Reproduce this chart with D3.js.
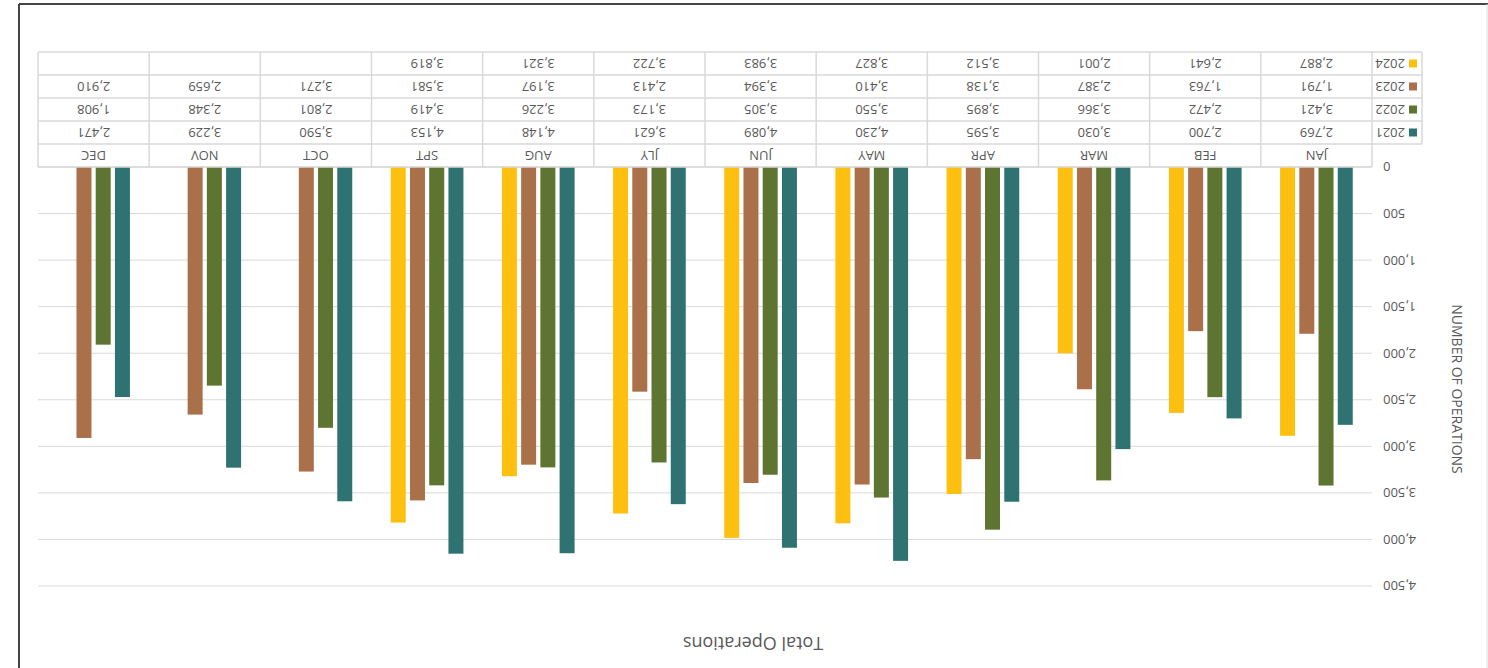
<!DOCTYPE html>
<html>
<head>
<meta charset="utf-8">
<script src="https://cdn.jsdelivr.net/npm/d3@7"></script>
<style>
  body { margin: 0; background: #fff; }
  text { font-family: "Open Sans", "Noto Sans", sans-serif; fill: #595959; }
</style>
</head>
<body>
<div id="chart"></div>
<script>
// Data
var months = ["JAN", "FEB", "MAR", "APR", "MAY", "JUN", "JLY", "AUG", "SPT", "OCT", "NOV", "DEC"];
var years = ["2021", "2022", "2023", "2024"];
var ops2021 = [2769, 2700, 3030, 3595, 4230, 4089, 3621, 4148, 4153, 3590, 3229, 2471];
var ops2022 = [3421, 2472, 3366, 3895, 3550, 3305, 3173, 3226, 3419, 2801, 2348, 1908];
var ops2023 = [1791, 1763, 2387, 3138, 3410, 3394, 2413, 3197, 3581, 3271, 2659, 2910];
var ops2024 = [2887, 2641, 2001, 3512, 3827, 3983, 3722, 3321, 3819, null, null, null];
var yTicks = [0, 500, 1000, 1500, 2000, 2500, 3000, 3500, 4000, 4500];
var colors = ["#2e7371", "#5e7532", "#a9704a", "#fdc010"];

var series = [ops2021, ops2022, ops2023, ops2024];

var W = 1488, H = 668;
var plotLeft = 116, plotRight = 1450, plotTop = 82, plotZero = 501;
var rowH = 23;

var svg = d3.select("#chart").append("svg")
  .attr("width", W)
  .attr("height", H);

// whole picture is shown upside down
var g = svg.append("g").attr("transform", "rotate(180," + W / 2 + "," + H / 2 + ")");

// frame
g.append("line").attr("x1", 1469).attr("x2", 1469).attr("y1", 0).attr("y2", 664)
  .style("stroke", "#444").style("stroke-width", 2);
g.append("line").attr("x1", 0).attr("x2", 1469).attr("y1", 664).attr("y2", 664)
  .style("stroke", "#444").style("stroke-width", 2);
g.append("line").attr("x1", 1).attr("x2", 1).attr("y1", 0).attr("y2", 664)
  .style("stroke", "#e0e0e0").style("stroke-width", 1);

// Scales
var x0 = d3.scaleBand().domain(months).range([plotLeft, plotRight]).paddingInner(0.27).paddingOuter(0.135);
var x1 = d3.scaleBand().domain(years).range([0, x0.bandwidth()]).padding(0.22);
var y = d3.scaleLinear().domain([0, 4500]).range([plotZero, plotTop]);
var col = d3.scaleBand().domain(months).range([plotLeft, plotRight]);

// gridlines
g.selectAll(".grid").data(yTicks).enter().append("line")
  .attr("x1", plotLeft).attr("x2", plotRight)
  .attr("y1", function(d) { return y(d); })
  .attr("y2", function(d) { return y(d); })
  .style("stroke", "#d9d9d9").style("stroke-width", 1);

// y axis labels
g.selectAll(".ytick").data(yTicks).enter().append("text")
  .attr("x", 105)
  .attr("y", function(d) { return y(d); })
  .attr("dy", "0.35em")
  .attr("text-anchor", "end")
  .style("font-size", "13px")
  .text(function(d) { return d3.format(",")(d); });

// bars
series.forEach(function(vals, si) {
  g.selectAll(".bar" + si).data(months).enter().append("rect")
    .filter(function(m, i) { return vals[i] !== null; })
    .attr("x", function(m) { return x0(m) + x1(years[si]); })
    .attr("width", x1.bandwidth())
    .attr("y", function(m) { return y(vals[months.indexOf(m)]); })
    .attr("height", function(m) { return plotZero - y(vals[months.indexOf(m)]); })
    .attr("fill", colors[si]);
});

// data table
var lineColor = "#d9d9d9";
var tableBottom = plotZero + rowH * 5;
// horizontal lines
for (var r = 0; r <= 5; r++) {
  g.append("line")
    .attr("x1", r === 0 ? plotLeft : 66).attr("x2", plotRight)
    .attr("y1", plotZero + r * rowH).attr("y2", plotZero + r * rowH)
    .style("stroke", lineColor).style("stroke-width", 1.5);
}
// vertical lines
months.concat(["end"]).forEach(function(m, i) {
  var xx = i < months.length ? col(m) : plotRight;
  g.append("line").attr("x1", xx).attr("x2", xx)
    .attr("y1", plotZero).attr("y2", tableBottom)
    .style("stroke", lineColor).style("stroke-width", 1.5);
});
g.append("line").attr("x1", 66).attr("x2", 66)
  .attr("y1", plotZero + rowH).attr("y2", tableBottom)
  .style("stroke", lineColor).style("stroke-width", 1.5);

// category labels
g.selectAll(".cat").data(months).enter().append("text")
  .attr("x", function(m) { return col(m) + col.bandwidth() / 2; })
  .attr("y", plotZero + rowH / 2)
  .attr("dy", "0.35em")
  .attr("text-anchor", "middle")
  .style("font-size", "13px")
  .text(function(m) { return m; });

// value rows and legend keys
series.forEach(function(vals, si) {
  var cy = plotZero + rowH * (si + 1) + rowH / 2;
  g.append("rect").attr("x", 71).attr("y", cy - 4).attr("width", 8).attr("height", 8)
    .attr("fill", colors[si]);
  g.append("text").attr("x", 83).attr("y", cy).attr("dy", "0.35em")
    .style("font-size", "13px").text(years[si]);
  g.selectAll(".val" + si).data(months).enter().append("text")
    .filter(function(m, i) { return vals[i] !== null; })
    .attr("x", function(m) { return col(m) + col.bandwidth() / 2; })
    .attr("y", cy)
    .attr("dy", "0.35em")
    .attr("text-anchor", "middle")
    .style("font-size", "13px")
    .text(function(m) { return d3.format(",")(vals[months.indexOf(m)]); });
});

// axis title
g.append("text")
  .attr("transform", "translate(31,279) rotate(-90)")
  .attr("text-anchor", "middle")
  .attr("dy", "0.35em")
  .style("font-size", "14px")
  .text("NUMBER OF OPERATIONS");

// chart title
g.append("text")
  .attr("x", 735).attr("y", 25)
  .attr("dy", "0.35em")
  .attr("text-anchor", "middle")
  .style("font-size", "18px")
  .text("Total Operations");
</script>
</body>
</html>
